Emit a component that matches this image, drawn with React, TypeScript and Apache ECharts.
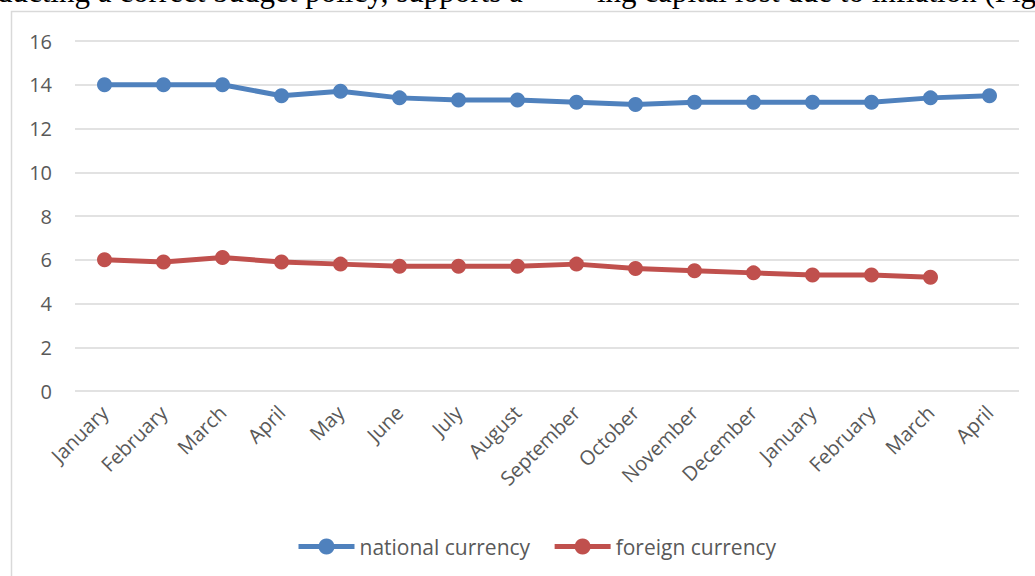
import React, { useEffect, useRef } from "react";
import * as echarts from "echarts";

const months = [
  "January", "February", "March", "April", "May", "June", "July", "August",
  "September", "October", "November", "December", "January", "February", "March", "April",
];
const nationalCurrency = [14, 14, 14, 13.5, 13.7, 13.4, 13.3, 13.3, 13.2, 13.1, 13.2, 13.2, 13.2, 13.2, 13.4, 13.5];
const foreignCurrency = [6, 5.9, 6.1, 5.9, 5.8, 5.7, 5.7, 5.7, 5.8, 5.6, 5.5, 5.4, 5.3, 5.3, 5.2, null];
const seriesNames = ["national currency", "foreign currency"];
const topTextLeft = "ducting a correct budget policy, supports a";
const topTextRight = "ing capital lost due to inflation (Fig";

const FONT = "'Open Sans', sans-serif";

export default function App() {
  const ref = useRef<HTMLDivElement>(null);
  useEffect(() => {
    const chart = echarts.init(ref.current!, null, { renderer: "svg" });
    chart.setOption({
      animation: false,
      backgroundColor: "#ffffff",
      graphic: [
        {
          type: "rect",
          shape: { x: 11.5, y: 11.5, width: 1040, height: 600 },
          style: { fill: "none", stroke: "#d9d9d9", lineWidth: 1.5 },
          z: 0,
        },
        {
          type: "text",
          x: -3,
          y: 7,
          style: { text: topTextLeft, font: "31px 'Liberation Serif', serif", fill: "#000", textVerticalAlign: "bottom" },
          z: 10,
        },
        {
          type: "text",
          x: 597,
          y: 7,
          style: { text: topTextRight, font: "31px 'Liberation Serif', serif", fill: "#000", textVerticalAlign: "bottom" },
          z: 10,
        },
      ],
      grid: { left: 75, right: 16, top: 41, bottom: 185, containLabel: false },
      legend: {
        top: 536,
        left: 296,
        padding: 0,
        itemWidth: 56,
        itemHeight: 20,
        itemGap: 22,
        lineStyle: { width: 5 },
        textStyle: { fontFamily: FONT, fontSize: 21, color: "#595959" },
        data: seriesNames,
      },
      xAxis: {
        type: "category",
        data: months,
        boundaryGap: true,
        axisLine: { show: false },
        axisTick: { show: false },
        axisLabel: {
          rotate: 45,
          interval: 0,
          fontFamily: FONT,
          fontSize: 20,
          color: "#595959",
          margin: 18,
        },
      },
      yAxis: {
        type: "value",
        min: 0,
        max: 16,
        interval: 2,
        axisLine: { show: false },
        axisTick: { show: false },
        axisLabel: { fontFamily: FONT, fontSize: 20, color: "#595959", margin: 23 },
        splitLine: { lineStyle: { color: "#d9d9d9", width: 1.5 } },
      },
      series: [
        {
          name: seriesNames[0],
          type: "line",
          data: nationalCurrency,
          symbol: "circle",
          symbolSize: 15,
          lineStyle: { width: 5, color: "#4f81bd" },
          itemStyle: { color: "#4f81bd" },
        },
        {
          name: seriesNames[1],
          type: "line",
          data: foreignCurrency,
          symbol: "circle",
          symbolSize: 15,
          lineStyle: { width: 5, color: "#c0504d" },
          itemStyle: { color: "#c0504d" },
        },
      ],
    });
    return () => chart.dispose();
  }, []);
  return <div ref={ref} style={{ width: 1035, height: 576, position: "absolute", left: 0, top: 0 }} />;
}
